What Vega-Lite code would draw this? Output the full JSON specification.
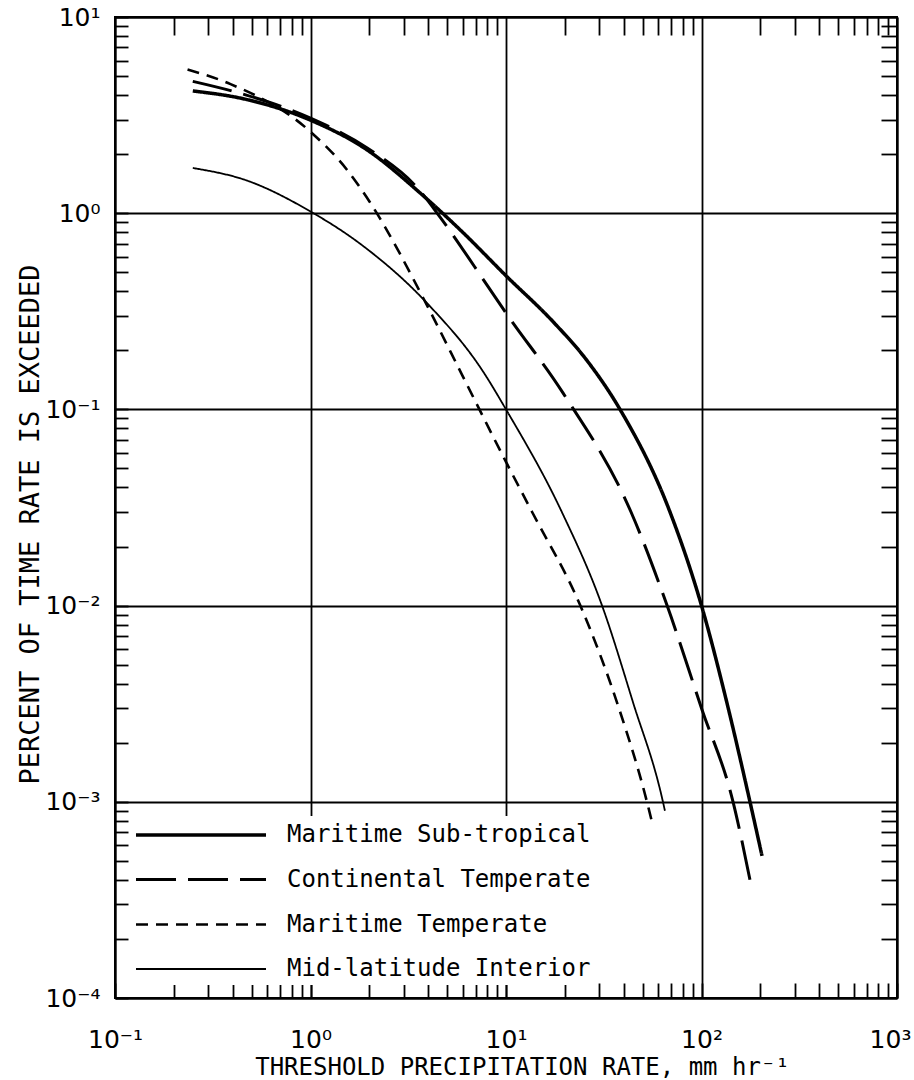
{
  "$schema": "https://vega.github.io/schema/vega-lite/v6.json",
  "width": 782,
  "height": 981,
  "autosize": {"type": "none"},
  "padding": {"left": 115, "top": 17, "right": 17, "bottom": 82},
  "background": "white",
  "config": {
    "view": {"stroke": "black", "strokeWidth": 2},
    "axis": {
      "domainColor": "black", "domainWidth": 2,
      "tickColor": "black", "tickWidth": 1.8,
      "gridColor": "black", "gridWidth": 1.8,
      "labelColor": "black", "titleColor": "black",
      "labelFont": "DejaVu Sans", "titleFont": "DejaVu Sans Mono", "titleFontWeight": "normal"
    }
  },
  "data": {
    "values": [
      {"series": "Maritime Sub-tropical", "rate": 0.25, "percent": 4.2},
      {"series": "Maritime Sub-tropical", "rate": 0.47, "percent": 3.8},
      {"series": "Maritime Sub-tropical", "rate": 1.0, "percent": 2.98},
      {"series": "Maritime Sub-tropical", "rate": 1.95, "percent": 2.1},
      {"series": "Maritime Sub-tropical", "rate": 3.63, "percent": 1.27},
      {"series": "Maritime Sub-tropical", "rate": 6.0, "percent": 0.8},
      {"series": "Maritime Sub-tropical", "rate": 10, "percent": 0.48},
      {"series": "Maritime Sub-tropical", "rate": 17.4, "percent": 0.28},
      {"series": "Maritime Sub-tropical", "rate": 25.9, "percent": 0.178},
      {"series": "Maritime Sub-tropical", "rate": 38.3, "percent": 0.1},
      {"series": "Maritime Sub-tropical", "rate": 69, "percent": 0.03},
      {"series": "Maritime Sub-tropical", "rate": 100, "percent": 0.01},
      {"series": "Maritime Sub-tropical", "rate": 137, "percent": 0.003},
      {"series": "Maritime Sub-tropical", "rate": 177, "percent": 0.001},
      {"series": "Maritime Sub-tropical", "rate": 204, "percent": 0.00053},
      {"series": "Continental Temperate", "rate": 0.25, "percent": 4.7},
      {"series": "Continental Temperate", "rate": 0.47, "percent": 4.0},
      {"series": "Continental Temperate", "rate": 1.0, "percent": 3.05},
      {"series": "Continental Temperate", "rate": 1.95, "percent": 2.15},
      {"series": "Continental Temperate", "rate": 3.63, "percent": 1.3},
      {"series": "Continental Temperate", "rate": 4.6, "percent": 0.955},
      {"series": "Continental Temperate", "rate": 8.0, "percent": 0.43},
      {"series": "Continental Temperate", "rate": 10, "percent": 0.31},
      {"series": "Continental Temperate", "rate": 19.6, "percent": 0.121},
      {"series": "Continental Temperate", "rate": 43.6, "percent": 0.03},
      {"series": "Continental Temperate", "rate": 66.7, "percent": 0.01},
      {"series": "Continental Temperate", "rate": 100, "percent": 0.003},
      {"series": "Continental Temperate", "rate": 145, "percent": 0.001},
      {"series": "Continental Temperate", "rate": 177, "percent": 0.0004},
      {"series": "Maritime Temperate", "rate": 0.235, "percent": 5.4},
      {"series": "Maritime Temperate", "rate": 0.39, "percent": 4.55},
      {"series": "Maritime Temperate", "rate": 1.0, "percent": 2.6},
      {"series": "Maritime Temperate", "rate": 1.54, "percent": 1.66},
      {"series": "Maritime Temperate", "rate": 2.01, "percent": 1.14},
      {"series": "Maritime Temperate", "rate": 4.0, "percent": 0.33},
      {"series": "Maritime Temperate", "rate": 5.96, "percent": 0.15},
      {"series": "Maritime Temperate", "rate": 10, "percent": 0.054},
      {"series": "Maritime Temperate", "rate": 13.6, "percent": 0.03},
      {"series": "Maritime Temperate", "rate": 24, "percent": 0.01},
      {"series": "Maritime Temperate", "rate": 37.8, "percent": 0.003},
      {"series": "Maritime Temperate", "rate": 52.6, "percent": 0.001},
      {"series": "Maritime Temperate", "rate": 56.5, "percent": 0.00075},
      {"series": "Mid-latitude Interior", "rate": 0.25, "percent": 1.7},
      {"series": "Mid-latitude Interior", "rate": 0.47, "percent": 1.47},
      {"series": "Mid-latitude Interior", "rate": 1.0, "percent": 1.02},
      {"series": "Mid-latitude Interior", "rate": 1.79, "percent": 0.7},
      {"series": "Mid-latitude Interior", "rate": 4.0, "percent": 0.343},
      {"series": "Mid-latitude Interior", "rate": 7.6, "percent": 0.157},
      {"series": "Mid-latitude Interior", "rate": 10, "percent": 0.1},
      {"series": "Mid-latitude Interior", "rate": 19.3, "percent": 0.03},
      {"series": "Mid-latitude Interior", "rate": 31, "percent": 0.01},
      {"series": "Mid-latitude Interior", "rate": 44.7, "percent": 0.0032},
      {"series": "Mid-latitude Interior", "rate": 63.5, "percent": 0.001},
      {"series": "Mid-latitude Interior", "rate": 65, "percent": 0.0009}
    ]
  },
  "layer": [
    {
      "mark": {"type": "line", "color": "black", "interpolate": "monotone"},
      "encoding": {
        "x": {
          "field": "rate", "type": "quantitative",
          "scale": {"type": "log", "domain": [0.1, 1000], "nice": false},
          "axis": {
            "orient": "bottom",
            "values": [0.1,0.2,0.3,0.4,0.5,0.6,0.7,0.8,0.9,1,2,3,4,5,6,7,8,9,10,20,30,40,50,60,70,80,90,100,200,300,400,500,600,700,800,900,1000],
            "grid": true,
            "gridOpacity": {"condition": {"test": "abs(log(datum.value)/LN10 - round(log(datum.value)/LN10)) < 0.001", "value": 1}, "value": 0},
            "tickSize": -15,
            "labelExpr": "datum.value===0.1?'10⁻¹':datum.value===1?'10⁰':datum.value===10?'10¹':datum.value===100?'10²':datum.value===1000?'10³':''",
            "labelFontSize": 25,
            "labelPadding": 44,
            "labelOffset": {"condition": {"test": "datum.value===1000", "value": -7}, "value": 0},
            "labelFlush": false,
            "labelOverlap": false,
            "labelBound": false,
            "title": "THRESHOLD PRECIPITATION RATE, mm hr⁻¹",
            "titleFontSize": 24,
            "titleX": 407,
            "titleY": 57,
            "titleAlign": "center",
            "titleBaseline": "top"
          }
        },
        "y": {
          "field": "percent", "type": "quantitative",
          "scale": {"type": "log", "domain": [0.0001, 10], "nice": false},
          "axis": {
            "orient": "left",
            "values": [0.0001,0.0002,0.0003,0.0004,0.0005,0.0006,0.0007,0.0008,0.0009,0.001,0.002,0.003,0.004,0.005,0.006,0.007,0.008,0.009,0.01,0.02,0.03,0.04,0.05,0.06,0.07,0.08,0.09,0.1,0.2,0.3,0.4,0.5,0.6,0.7,0.8,0.9,1,2,3,4,5,6,7,8,9,10],
            "grid": true,
            "gridOpacity": {"condition": {"test": "abs(log(datum.value)/LN10 - round(log(datum.value)/LN10)) < 0.001", "value": 1}, "value": 0},
            "tickSize": -13,
            "labelExpr": "datum.value===10?'10¹':datum.value===1?'10⁰':datum.value===0.1?'10⁻¹':datum.value===0.01?'10⁻²':datum.value===0.001?'10⁻³':datum.value===0.0001?'10⁻⁴':''",
            "labelFontSize": 25,
            "labelPadding": 28,
            "labelFlush": false,
            "labelOverlap": false,
            "labelBound": false,
            "title": "PERCENT OF TIME RATE IS EXCEEDED",
            "titleFontSize": 27,
            "titleX": -85,
            "titleY": 507,
            "titleAngle": 270,
            "titleAlign": "center",
            "titleBaseline": "middle"
          }
        },
        "strokeDash": {
          "field": "series", "type": "nominal",
          "scale": {
            "domain": ["Maritime Sub-tropical", "Continental Temperate", "Maritime Temperate", "Mid-latitude Interior"],
            "range": [[1, 0], [40, 12], [12, 8], [1, 0]]
          },
          "legend": {
            "title": null,
            "orient": "none",
            "legendX": 15,
            "legendY": 799,
            "symbolType": "M-5,0H5",
            "symbolSize": 676,
            "symbolOffset": 52,
            "labelOffset": 71,
            "labelLimit": 500,
            "labelFont": "DejaVu Sans Mono",
            "labelFontSize": 24,
            "labelColor": "black",
            "symbolStrokeColor": "black",
            "symbolFillColor": "transparent",
            "rowPadding": 18,
            "padding": 4,
            "fillColor": "white"
          }
        },
        "strokeWidth": {
          "field": "series", "type": "nominal",
          "scale": {
            "type": "ordinal",
            "domain": ["Maritime Sub-tropical", "Continental Temperate", "Maritime Temperate", "Mid-latitude Interior"],
            "range": [3.5, 3, 2.6, 1.8]
          }
        }
      }
    },
    {
      "mark": {"type": "line", "opacity": 0},
      "encoding": {
        "x": {
          "field": "rate", "type": "quantitative",
          "scale": {"type": "log", "domain": [0.1, 1000], "nice": false},
          "axis": {
            "orient": "top",
            "values": [0.2,0.3,0.4,0.5,0.6,0.7,0.8,0.9,2,3,4,5,6,7,8,9,20,30,40,50,60,70,80,90,200,300,400,500,600,700,800,900],
            "grid": false, "labels": false, "tickSize": -18, "title": null
          }
        },
        "y": {
          "field": "percent", "type": "quantitative",
          "scale": {"type": "log", "domain": [0.0001, 10], "nice": false},
          "axis": {
            "orient": "right",
            "values": [0.0002,0.0003,0.0004,0.0005,0.0006,0.0007,0.0008,0.0009,0.002,0.003,0.004,0.005,0.006,0.007,0.008,0.009,0.02,0.03,0.04,0.05,0.06,0.07,0.08,0.09,0.2,0.3,0.4,0.5,0.6,0.7,0.8,0.9,2,3,4,5,6,7,8,9],
            "grid": false, "labels": false, "tickSize": -16, "title": null
          }
        },
        "detail": {"field": "series", "type": "nominal"}
      }
    }
  ],
  "resolve": {"axis": {"x": "independent", "y": "independent"}}
}
